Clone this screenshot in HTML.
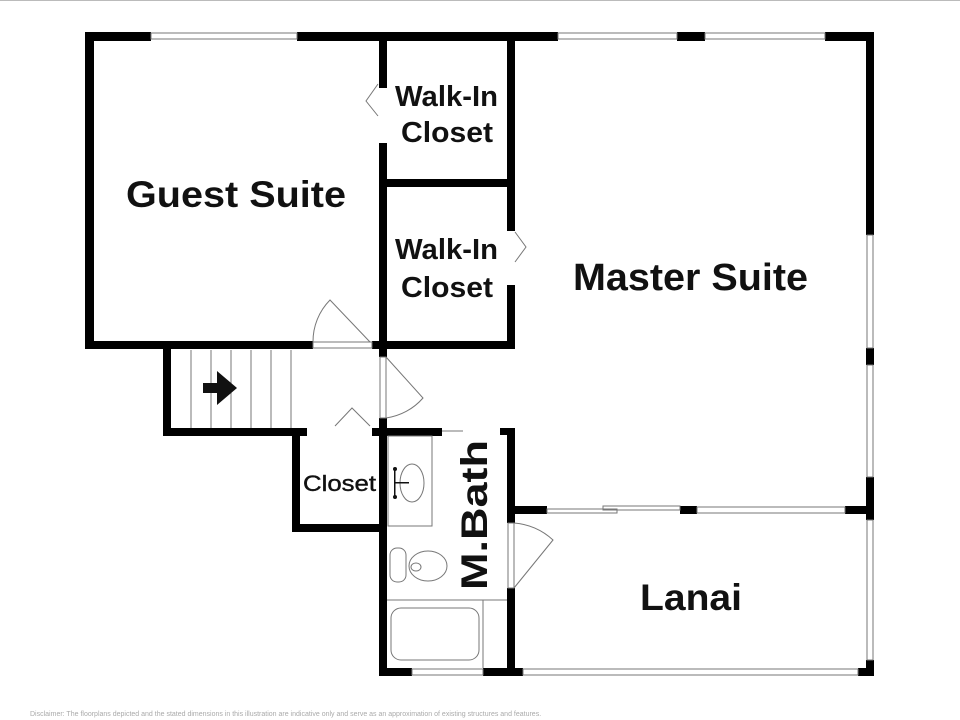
<!DOCTYPE html>
<html><head><meta charset="utf-8"><style>
html,body{margin:0;padding:0;background:#fff;}
svg{display:block}
text{font-family:"Liberation Sans",sans-serif;font-weight:bold;fill:#111}
</style></head><body>
<svg width="960" height="720" viewBox="0 0 960 720" xmlns="http://www.w3.org/2000/svg">
<rect width="960" height="720" fill="#fff"/>
<line x1="0" y1="0.5" x2="960" y2="0.5" stroke="#bbb"/>
<g fill="#000">
<rect x="85" y="32" width="66" height="9"/>
<rect x="297" y="32" width="261" height="9"/>
<rect x="677" y="32" width="28" height="9"/>
<rect x="825" y="32" width="49" height="9"/>
<rect x="85" y="32" width="9" height="317"/>
<rect x="85" y="341" width="228" height="8"/>
<rect x="372" y="341" width="143" height="8"/>
<rect x="379" y="32" width="8" height="56"/>
<rect x="379" y="143" width="8" height="206"/>
<rect x="379" y="179" width="136" height="8"/>
<rect x="507" y="32" width="8" height="199"/>
<rect x="507" y="285" width="8" height="64"/>
<rect x="866" y="32" width="8" height="203"/>
<rect x="866" y="348" width="8" height="17"/>
<rect x="866" y="477" width="8" height="43"/>
<rect x="866" y="660" width="8" height="16"/>
<rect x="163" y="345" width="8" height="91"/>
<rect x="163" y="428" width="144" height="8"/>
<rect x="292" y="428" width="8" height="104"/>
<rect x="292" y="524" width="91" height="8"/>
<rect x="372" y="428" width="70" height="8"/>
<rect x="379" y="345" width="8" height="12"/>
<rect x="379" y="418" width="8" height="258"/>
<rect x="500" y="428" width="15" height="7"/>
<rect x="507" y="428" width="8" height="95"/>
<rect x="507" y="588" width="8" height="88"/>
<rect x="511" y="506" width="36" height="8"/>
<rect x="680" y="506" width="17" height="8"/>
<rect x="845" y="506" width="29" height="8"/>
<rect x="379" y="668" width="33" height="8"/>
<rect x="483" y="668" width="40" height="8"/>
<rect x="858" y="668" width="16" height="8"/>
</g>
<g fill="none" stroke="#777" stroke-width="1">
<rect x="151" y="33" width="146" height="6"/>
<rect x="558" y="33" width="119" height="6"/>
<rect x="705" y="33" width="120" height="6"/>
<rect x="867" y="235" width="6" height="113"/>
<rect x="867" y="365" width="6" height="112"/>
<rect x="867" y="520" width="6" height="140"/>
<rect x="412" y="669" width="71" height="6"/>
<rect x="523" y="669" width="335" height="6"/>
<rect x="697" y="507" width="148" height="6"/>
<rect x="547" y="509" width="70" height="4"/>
<rect x="603" y="506" width="77" height="4"/>
<rect x="313" y="342" width="59" height="6"/>
<path d="M313 342 A59 59 0 0 1 330 300 L370 342"/>
<path d="M378 84 L366 101 L378 116"/>
<path d="M515 232 L526 247 L515 262"/>
<rect x="380" y="357" width="6" height="61"/>
<path d="M386 357 L423 398 A60 60 0 0 1 386 418"/>
<path d="M335 426 L352 408 L370 426"/>
<rect x="508" y="523" width="6" height="65"/>
<path d="M514 523 A65 65 0 0 1 553 540 L514 588"/>
<path d="M191 350V428M211 350V428M231 350V428M251 350V428M271 350V428M291 350V428"/>
<line x1="442" y1="431" x2="463" y2="431"/>
<rect x="388" y="436" width="44" height="90"/>
<ellipse cx="412" cy="483" rx="12" ry="19"/>
<rect x="390" y="548" width="16" height="34" rx="7"/>
<ellipse cx="428" cy="566" rx="19" ry="15"/>
<ellipse cx="416" cy="567" rx="5" ry="4"/>
<line x1="387" y1="600" x2="507" y2="600"/>
<line x1="483" y1="600" x2="483" y2="668"/>
<rect x="391" y="608" width="88" height="52" rx="10"/>
</g>
<path d="M203 383h14v-12l20 17-20 17v-12h-14z" fill="#111"/>
<g fill="#111"><circle cx="395" cy="469" r="2"/><circle cx="395" cy="497" r="2"/><rect x="394" y="470" width="1.5" height="26"/><rect x="394" y="482" width="15" height="1.5"/></g>
<text x="126" y="207" font-size="37" textLength="220" lengthAdjust="spacingAndGlyphs">Guest Suite</text>
<text x="395" y="106" font-size="29" textLength="103" lengthAdjust="spacingAndGlyphs">Walk-In</text>
<text x="401" y="142" font-size="29" textLength="92" lengthAdjust="spacingAndGlyphs">Closet</text>
<text x="395" y="259" font-size="29" textLength="103" lengthAdjust="spacingAndGlyphs">Walk-In</text>
<text x="401" y="297" font-size="29" textLength="92" lengthAdjust="spacingAndGlyphs">Closet</text>
<text x="573" y="290" font-size="38" textLength="235" lengthAdjust="spacingAndGlyphs">Master Suite</text>
<text x="640" y="610" font-size="37" textLength="102" lengthAdjust="spacingAndGlyphs">Lanai</text>
<text x="303" y="491" font-size="22" textLength="73" lengthAdjust="spacingAndGlyphs" style="font-weight:normal;stroke:#111;stroke-width:0.4">Closet</text>
<text transform="translate(487,590) rotate(-90)" font-size="37" textLength="150" lengthAdjust="spacingAndGlyphs">M.Bath</text>
<text x="30" y="716" font-size="7" style="font-weight:normal;fill:#aaa">Disclaimer: The floorplans depicted and the stated dimensions in this illustration are indicative only and serve as an approximation of existing structures and features.</text>
</svg>
</body></html>
